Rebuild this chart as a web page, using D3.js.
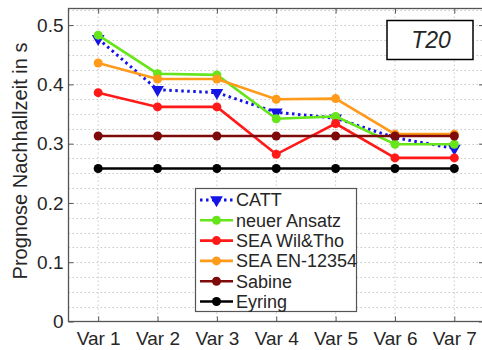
<!DOCTYPE html>
<html>
<head>
<meta charset="utf-8">
<script src="https://cdn.jsdelivr.net/npm/d3@7"></script>
<style>
  body { margin: 0; background: #fff; }
  text { font-family: "Liberation Sans", Arial, sans-serif; fill: #262626; }
</style>
</head>
<body>
<svg id="chart" width="482" height="350"></svg>
<script>
// chart data
const categories = ["Var 1", "Var 2", "Var 3", "Var 4", "Var 5", "Var 6", "Var 7"];
const catt      = [0.477, 0.391, 0.386, 0.353, 0.343, 0.310, 0.292];
const neuer     = [0.483, 0.418, 0.416, 0.342, 0.346, 0.299, 0.299];
const seaWil    = [0.386, 0.362, 0.362, 0.282, 0.334, 0.276, 0.276];
const seaEN     = [0.436, 0.409, 0.409, 0.375, 0.376, 0.316, 0.316];
const sabine    = [0.313, 0.313, 0.313, 0.313, 0.313, 0.313, 0.313];
const eyring    = [0.258, 0.258, 0.258, 0.258, 0.258, 0.258, 0.258];
const yTicks    = [0, 0.1, 0.2, 0.3, 0.4, 0.5];

const series = [
    {name: "CATT",          values: catt,   color: "#1414e6", dash: "2.5,3.5", marker: "tri"},
    {name: "neuer Ansatz",  values: neuer,  color: "#66e61a", dash: null, marker: "circle"},
    {name: "SEA Wil&Tho",   values: seaWil, color: "#ff1a1a", dash: null, marker: "circle"},
    {name: "SEA EN-12354",  values: seaEN,  color: "#ff9a1a", dash: null, marker: "circle"},
    {name: "Sabine",        values: sabine, color: "#7f0a0a", dash: null, marker: "circle"},
    {name: "Eyring",        values: eyring, color: "#000000", dash: null, marker: "circle"}
];

const margin = {left: 68.5, top: 8.5, right: 484, bottom: 321.5};
const svg = d3.select("#chart");

const x = d3.scaleLinear().domain([0.5, 7.5]).range([margin.left, margin.right]);
const y = d3.scaleLinear().domain([0, 0.528]).range([margin.bottom, margin.top]);

// background
svg.append("rect")
    .attr("x", margin.left).attr("y", margin.top)
    .attr("width", margin.right - margin.left)
    .attr("height", margin.bottom - margin.top)
    .attr("fill", "#fff");

// grid lines (dotted)
const grid = svg.append("g").attr("stroke", "#c8c8c8").attr("stroke-width", 1)
    .attr("stroke-dasharray", "1.5,2.5");
grid.selectAll(".hg")
    .data(d3.range(0.025, 0.528, 0.025))
    .enter().append("line")
    .attr("x1", margin.left).attr("x2", margin.right)
    .attr("y1", d => Math.round(y(d)) + 0.5).attr("y2", d => Math.round(y(d)) + 0.5);
grid.selectAll(".vg")
    .data(categories)
    .enter().append("line")
    .attr("x1", (d, i) => x(i + 1)).attr("x2", (d, i) => x(i + 1))
    .attr("y1", margin.top).attr("y2", margin.bottom);

// axes
const yAxis = d3.axisLeft(y).tickValues(yTicks).tickSize(-5).tickPadding(5)
    .tickFormat(d => d === 0 ? "0" : d3.format(".1f")(d));
const gy = svg.append("g").attr("transform", `translate(${margin.left},0)`).call(yAxis);
const xAxis = d3.axisBottom(x).tickValues(d3.range(1, 8)).tickSize(-5).tickPadding(0)
    .tickFormat(d => categories[d - 1]);
const gx = svg.append("g").attr("transform", `translate(0,${margin.bottom})`).call(xAxis);
const gyr = svg.append("g").attr("transform", `translate(${margin.right},0)`)
    .call(d3.axisRight(y).tickValues(yTicks).tickSize(-5).tickFormat(""));
const gxt = svg.append("g").attr("transform", `translate(0,${margin.top})`)
    .call(d3.axisTop(x).tickValues(d3.range(1, 8)).tickSize(-5).tickFormat(""));

[gy, gx, gyr, gxt].forEach(g => {
    g.select(".domain").remove();
    g.selectAll(".tick line").attr("stroke", "#555").attr("stroke-width", 1);
    g.selectAll("text").style("font-size", "19px").attr("fill", "#262626");
});
// baseline of the category labels near the bottom edge
gx.selectAll("text").attr("y", 345 - margin.bottom).attr("dy", null);

// frame
svg.append("rect")
    .attr("x", margin.left).attr("y", margin.top)
    .attr("width", margin.right - margin.left)
    .attr("height", margin.bottom - margin.top)
    .attr("fill", "none").attr("stroke", "#555").attr("stroke-width", 1.3);

// y label
svg.append("text")
    .attr("transform", `translate(27,${(margin.top + margin.bottom) / 2 - 4}) rotate(-90)`)
    .attr("text-anchor", "middle")
    .style("font-size", "20px")
    .text("Prognose Nachhallzeit in s");

const tri = d3.symbol().type(d3.symbolTriangle).size(70);

var drawMarker = function(g, s, px, py) {
    if (s.marker === "tri") {
        g.append("path").attr("d", tri)
            .attr("transform", `translate(${px},${py}) rotate(180)`)
            .attr("fill", s.color);
    } else {
        g.append("circle").attr("cx", px).attr("cy", py).attr("r", 4.5)
            .attr("fill", s.color);
    }
};

// lines
const line = d3.line().x((d, i) => x(i + 1)).y(d => y(d));
series.forEach(function(s) {
    const g = svg.append("g");
    g.append("path")
        .attr("d", line(s.values))
        .attr("fill", "none")
        .attr("stroke", s.color)
        .attr("stroke-width", s.marker === "tri" ? 3 : 2.6)
        .attr("stroke-dasharray", s.dash);
    s.values.forEach((v, i) => drawMarker(g, s, x(i + 1), y(v)));
});

// legend
const lg = svg.append("g");
lg.append("rect")
    .attr("x", 195.5).attr("y", 188.5).attr("width", 161).attr("height", 123)
    .attr("fill", "#fff").attr("stroke", "#555").attr("stroke-width", 1.2);
series.forEach(function(s, i) {
    const cy = 200 + i * 20.3;
    lg.append("line")
        .attr("x1", 200).attr("x2", 233).attr("y1", cy).attr("y2", cy)
        .attr("stroke", s.color)
        .attr("stroke-width", s.marker === "tri" ? 3 : 2.6)
        .attr("stroke-dasharray", s.dash);
    drawMarker(lg, s, 216.5, cy);
    lg.append("text")
        .attr("x", 236).attr("y", cy).attr("dy", "0.35em")
        .style("font-size", "18px")
        .text(s.name);
});

// T20 box
svg.append("rect")
    .attr("x", 387).attr("y", 20.5).attr("width", 86).attr("height", 39)
    .attr("fill", "#fff").attr("stroke", "#000").attr("stroke-width", 1.5);
svg.append("text")
    .attr("x", 431).attr("y", 40).attr("dy", "0.35em")
    .attr("text-anchor", "middle")
    .style("font-size", "23px").style("font-style", "italic")
    .attr("fill", "#000")
    .text("T20");
</script>
</body>
</html>
